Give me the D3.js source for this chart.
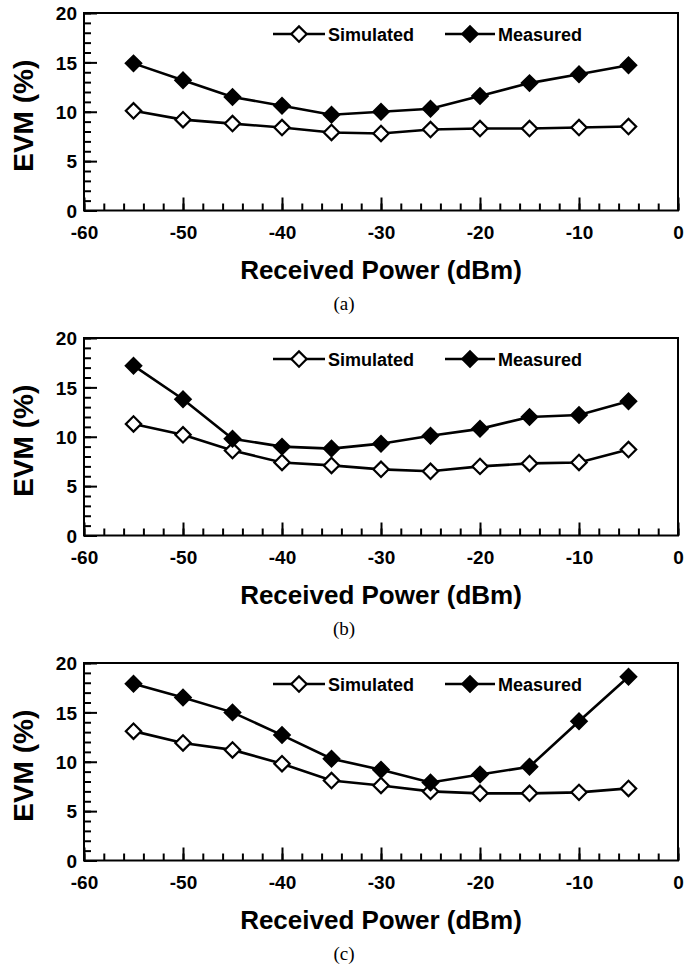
<!DOCTYPE html>
<html>
<head>
<meta charset="utf-8">
<script src="https://cdn.jsdelivr.net/npm/d3@7"></script>
<style>
  body { margin: 0; background: #fff; }
  svg { display: block; }
</style>
</head>
<body>
<div class="canvas"></div>
<script>
// data
const xValues = [-55, -50, -45, -40, -35, -30, -25, -20, -15, -10, -5];
const simA = [10.1, 9.2, 8.8, 8.4, 7.9, 7.8, 8.2, 8.3, 8.3, 8.4, 8.5];
const measA = [14.9, 13.2, 11.5, 10.6, 9.7, 10.0, 10.3, 11.6, 12.9, 13.8, 14.7];
const simB = [11.3, 10.2, 8.6, 7.4, 7.1, 6.7, 6.5, 7.0, 7.3, 7.4, 8.7];
const measB = [17.2, 13.8, 9.8, 9.0, 8.8, 9.3, 10.1, 10.8, 12.0, 12.2, 13.6];
const simC = [13.1, 11.9, 11.2, 9.8, 8.1, 7.6, 7.0, 6.8, 6.8, 6.9, 7.3];
const measC = [17.9, 16.5, 15.0, 12.7, 10.3, 9.2, 7.9, 8.7, 9.5, 14.1, 18.6];

const xTicks = [-60, -50, -40, -30, -20, -10, 0];
const yTicks = [0, 5, 10, 15, 20];
const seriesNames = ['Simulated', 'Measured'];
const panelLabels = ['(a)', '(b)', '(c)'];

const svg = d3.select('.canvas')
	.append('svg')
	.attr('width', 697)
	.attr('height', 969);

svg.append('rect')
	.attr('width', 697)
	.attr('height', 969)
	.attr('fill', '#fff');

const margin = { top: 13, left: 84 };
const graphWidth = 594;
const graphHeight = 197.5;
const panelStep = 325;

const x = d3.scaleLinear().domain([-60, 0]).range([0, graphWidth]);
const y = d3.scaleLinear().domain([0, 20]).range([graphHeight, 0]);

const sansFont = '"Liberation Sans", Arial, sans-serif';
const serifFont = '"Liberation Serif", "Times New Roman", serif';

const diamond = d3.symbol().type(d3.symbolSquare).size(118);

const line = d3.line()
	.x((d, i) => x(xValues[i]))
	.y(d => y(d));

const drawPanel = (k, sim, meas) => {
	const graph = svg.append('g')
		.attr('transform', `translate(${margin.left},${margin.top + k * panelStep})`);

	// minor ticks
	graph.append('g')
		.attr('transform', `translate(0,${graphHeight})`)
		.call(d3.axisBottom(x).tickValues(d3.range(-60, 1, 2)).tickSize(-7).tickFormat(''));
	graph.append('g')
		.call(d3.axisLeft(y).tickValues(d3.range(0, 21, 1)).tickSize(-7).tickFormat(''));

	// major ticks + labels (plain hyphen, like the original)
	const xAxisGroup = graph.append('g')
		.attr('transform', `translate(0,${graphHeight})`)
		.call(d3.axisBottom(x).tickValues(xTicks).tickSize(-13).tickPadding(15).tickFormat(d => String(d)));
	const yAxisGroup = graph.append('g')
		.call(d3.axisLeft(y).tickValues(yTicks).tickSize(-13).tickPadding(7));

	graph.selectAll('.domain').remove();
	graph.selectAll('.tick line')
		.attr('stroke', '#000')
		.attr('stroke-width', 2);
	graph.selectAll('.tick text')
		.attr('fill', '#000')
		.attr('font-family', sansFont)
		.attr('font-weight', 'bold')
		.attr('font-size', 19);
	yAxisGroup.selectAll('text').attr('dy', '0.36em');

	// frame
	graph.append('rect')
		.attr('width', graphWidth)
		.attr('height', graphHeight)
		.attr('fill', 'none')
		.attr('stroke', '#000')
		.attr('stroke-width', 2);

	// series
	[sim, meas].forEach((vals, s) => {
		graph.append('path')
			.datum(vals)
			.attr('d', line)
			.attr('fill', 'none')
			.attr('stroke', '#000')
			.attr('stroke-width', 2.6);
		graph.selectAll('.pt' + s)
			.data(vals)
			.enter()
			.append('path')
			.attr('d', diamond)
			.attr('transform', (d, i) => `translate(${x(xValues[i])},${y(d)}) rotate(45)`)
			.attr('fill', s === 0 ? '#fff' : '#000')
			.attr('stroke', '#000')
			.attr('stroke-width', 2.2);
	});

	// legend
	const legend = graph.append('g').attr('transform', 'translate(0,21)');
	const legendX = [[189, 241, 244], [361, 411, 414]];
	seriesNames.forEach((name, s) => {
		const lx = legendX[s];
		legend.append('line')
			.attr('x1', lx[0]).attr('x2', lx[1])
			.attr('stroke', '#000')
			.attr('stroke-width', 2.6);
		legend.append('path')
			.attr('d', diamond)
			.attr('transform', `translate(${(lx[0] + lx[1]) / 2},0) rotate(45)`)
			.attr('fill', s === 0 ? '#fff' : '#000')
			.attr('stroke', '#000')
			.attr('stroke-width', 2.2);
		legend.append('text')
			.attr('x', lx[2])
			.attr('y', 7)
			.attr('font-family', sansFont)
			.attr('font-weight', 'bold')
			.attr('font-size', 18)
			.text(name);
	});

	// axis titles
	graph.append('text')
		.attr('x', graphWidth / 2)
		.attr('y', 266)
		.attr('text-anchor', 'middle')
		.attr('font-family', sansFont)
		.attr('font-weight', 'bold')
		.attr('font-size', 26)
		.text('Received Power (dBm)');

	graph.append('text')
		.attr('transform', `translate(-51,${graphHeight / 2 + 4}) rotate(-90)`)
		.attr('text-anchor', 'middle')
		.attr('font-family', sansFont)
		.attr('font-weight', 'bold')
		.attr('font-size', 28)
		.text('EVM (%)');

	graph.append('text')
		.attr('x', 260)
		.attr('y', 297)
		.attr('text-anchor', 'middle')
		.attr('font-family', serifFont)
		.attr('font-size', 19)
		.text(panelLabels[k]);
};

drawPanel(0, simA, measA);
drawPanel(1, simB, measB);
drawPanel(2, simC, measC);
</script>
</body>
</html>
